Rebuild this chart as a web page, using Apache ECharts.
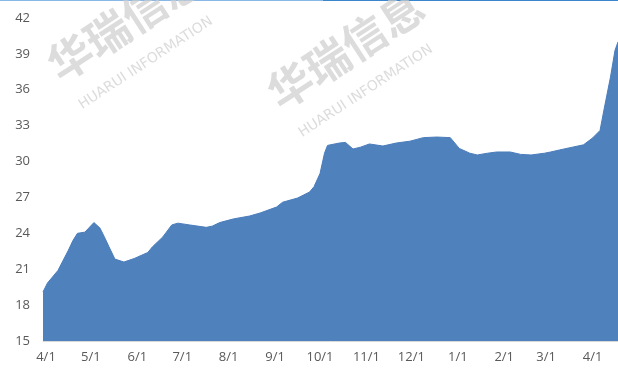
<!DOCTYPE html>
<html>
<head>
<meta charset="utf-8">
<script src="https://cdn.jsdelivr.net/npm/echarts@6/dist/echarts.min.js"></script>
<style>
html,body{margin:0;padding:0;background:#fff;}
#c{width:618px;height:374px;}
</style>
</head>
<body>
<div id="c"></div>
<script>
const dates = ['2020-03-30','2020-04-02','2020-04-09','2020-04-16','2020-04-19','2020-04-22','2020-04-27','2020-04-30',
  '2020-05-03','2020-05-07','2020-05-10','2020-05-13','2020-05-17','2020-05-23','2020-05-30',
  '2020-06-08','2020-06-11','2020-06-18','2020-06-24','2020-06-28',
  '2020-07-06','2020-07-17','2020-07-21','2020-07-26',
  '2020-08-04','2020-08-15','2020-08-22',
  '2020-09-02','2020-09-06','2020-09-16','2020-09-24','2020-09-27',
  '2020-10-01','2020-10-04','2020-10-06','2020-10-14','2020-10-18','2020-10-23','2020-10-28',
  '2020-11-03','2020-11-12','2020-11-21','2020-11-30',
  '2020-12-09','2020-12-18','2020-12-27',
  '2021-01-02','2021-01-09','2021-01-14','2021-01-21','2021-01-27',
  '2021-02-05','2021-02-12','2021-02-19','2021-02-28',
  '2021-03-04','2021-03-10','2021-03-26',
  '2021-04-01','2021-04-06','2021-04-09','2021-04-13','2021-04-16','2021-04-18'];
const prices = [19.1,19.85,20.9,22.6,23.4,24.0,24.1,24.5,
  24.9,24.45,23.7,22.9,21.85,21.6,21.9,
  22.4,22.86,23.7,24.7,24.85,
  24.7,24.5,24.6,24.9,
  25.2,25.45,25.7,
  26.2,26.6,26.95,27.45,27.9,
  29.0,30.7,31.35,31.55,31.6,31.05,31.2,
  31.47,31.3,31.55,31.7,
  32.0,32.05,32.0,
  31.1,30.7,30.55,30.7,30.8,
  30.8,30.6,30.55,30.7,
  30.8,30.97,31.4,
  31.97,32.6,34.56,37.07,39.3,40.0];
const monthTicks = ['2020-04-01','2020-05-01','2020-06-01','2020-07-01','2020-08-01','2020-09-01','2020-10-01',
  '2020-11-01','2020-12-01','2021-01-01','2021-02-01','2021-03-01','2021-04-01'];
const xStart = '2020-03-30', xEnd = '2021-04-18';
const yMin = 15, yMax = 42, yStep = 3;
const wmCN = '华瑞信息', wmEN = 'HUARUI INFORMATION';

const DAY = 86400000;
function utc(s){const p=s.split('-').map(Number);return Date.UTC(p[0],p[1]-1,p[2]);}
function dayOf(s){return Math.round((utc(s)-utc(xStart))/DAY);}
function labelOf(v){const d=new Date(utc(xStart)+Math.round(v)*DAY);return (d.getUTCMonth()+1)+'/'+d.getUTCDate();}

function watermark(x,y){
  return [
    {type:'text',x:x,y:y,rotation:0.58,z:0,silent:true,
     style:{text:wmCN,fill:'rgba(205,205,205,0.7)',font:'bold 44px "Noto Sans CJK SC"',textVerticalAlign:'bottom'}},
    {type:'text',x:x+20,y:y+24,rotation:0.58,z:0,silent:true,
     style:{text:wmEN,fill:'rgba(205,205,205,0.7)',font:'14px "DejaVu Sans"',textVerticalAlign:'bottom'}}
  ];
}

const chart = echarts.init(document.getElementById('c'), null, {renderer:'canvas'});
chart.setOption({
  animation:false,
  grid:{left:43,right:0,top:18,bottom:33,containLabel:false},
  graphic:[
    {type:'rect',shape:{x:0,y:0,width:323,height:1},style:{fill:'#8ab8e6'}},
    {type:'rect',shape:{x:323,y:0,width:295,height:1},style:{fill:'#3a86cc'}}
  ].concat(watermark(64,88), watermark(284,116)),
  xAxis:{
    type:'value',
    min:0,max:dayOf(xEnd),
    axisLine:{show:true,lineStyle:{color:'#d9d9d9',width:1}},
    axisTick:{show:false},
    splitLine:{show:false},
    axisLabel:{
      customValues:monthTicks.map(dayOf),
      formatter:labelOf,
      color:'#595959',fontSize:13,fontFamily:'Open Sans',margin:10,
      hideOverlap:false
    }
  },
  yAxis:{
    type:'value',min:yMin,max:yMax,interval:yStep,
    axisLine:{show:false},axisTick:{show:false},splitLine:{show:false},
    axisLabel:{color:'#595959',fontSize:13,fontFamily:'Open Sans',margin:13}
  },
  series:[{
    type:'line',
    data:dates.map((d,i)=>[dayOf(d),prices[i]]),
    showSymbol:false,symbol:'none',
    lineStyle:{width:1,color:'#4a7dbb'},
    areaStyle:{color:'#4f81bd',opacity:1},
    z:2
  }]
});
</script>
</body>
</html>
